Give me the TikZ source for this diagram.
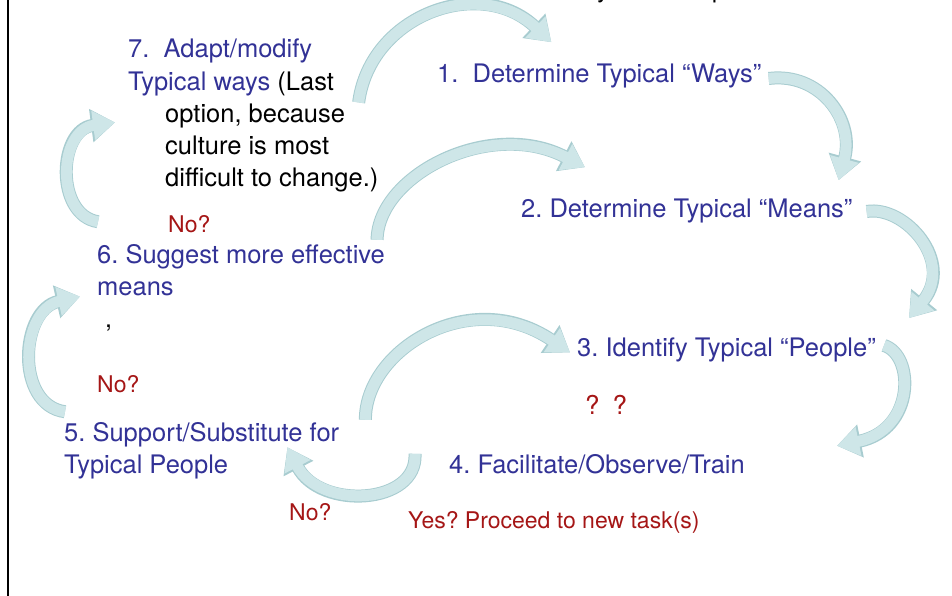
\documentclass[tikz,border=0pt]{standalone}
\usepackage{fontspec}
\setmainfont{TeX Gyre Heros}
\usetikzlibrary{arrows.meta}
\frenchspacing

\definecolor{stepblue}{RGB}{50,50,150}
\definecolor{askred}{RGB}{165,22,22}
\definecolor{cyclefill}{RGB}{206,230,232}
\definecolor{cycleedge}{RGB}{168,204,208}

\begin{document}
\begin{tikzpicture}[x=1pt,y=-1pt,
  stepnode/.style={inner sep=0pt, anchor=base west, text=stepblue, align=left,
    font=\fontsize{25.5}{32}\selectfont},
  asknode/.style={inner sep=0pt, anchor=base west, text=askred,
    font=\fontsize{23}{28}\selectfont},
  cyclearrow/.style={line width=11pt, draw=cyclefill, -{Triangle[length=22pt,width=28pt]},
    preaction={draw=cycleedge, line width=13pt, -{Triangle[length=24pt,width=32pt]}}}]
  \useasboundingbox (0,0) rectangle (952,596);

  % Left edge of the frame
  \draw[line width=2.5pt] (8,0) -- (8,596);

  % Bottom of the heading line, cut off at the top
  \begin{scope}
    \clip (0,0) rectangle (952,596);
    \node[inner sep=0pt, anchor=base west, font=\fontsize{25}{30}\selectfont] (headY) at (597,-2) {y};
    \node[inner sep=0pt, anchor=base west, font=\fontsize{25}{30}\selectfont] (headP) at (712,-2) {p};
  \end{scope}

  % The seven steps (multi-line nodes sit on their last line)
  \node[stepnode] (n1) at (437,83) {1.\ \ Determine Typical “Ways”};
  \node[stepnode] (n2) at (521,217) {2. Determine Typical “Means”};
  \node[stepnode] (n3) at (577,356) {3. Identify Typical “People”};
  \node[stepnode] (n4) at (449,473) {4. Facilitate/Observe/Train};
  \node[stepnode] (n5) at (64,473) {5. Support/Substitute for\\Typical People};
  \node[stepnode] (n6) at (97,295) {6. Suggest more effective\\means};
  \node[stepnode] (n7) at (128,186) {7.\ \ Adapt/modify\\Typical ways \textcolor{black}{(Last}\\
    \hspace*{37pt}\textcolor{black}{option, because}\\
    \hspace*{37pt}\textcolor{black}{culture is most}\\
    \hspace*{37pt}\textcolor{black}{difficult to change.)}};
  \node[inner sep=0pt, anchor=base west, font=\fontsize{25}{30}\selectfont] (tick) at (105,327) {,};

  % Questions in red
  \node[asknode] (no7) at (168,232) {No?};
  \node[asknode] (no6) at (97,392) {No?};
  \node[asknode] (no5) at (289,520) {No?};
  \node[asknode] (yes) at (408,528) {Yes? Proceed to new task(s)};
  \node[asknode, font=\fontsize{26}{30}\selectfont] (unsure) at (585,414) {?\hspace{13pt}?};

  % Curved arrows round the cycle
  \draw[cyclearrow] ([shift={(-20,-13)}]n7.east) .. controls (370,15) and (480,-25) .. ([shift={(-48,-22)}]n1.north);
  \draw[cyclearrow] ([shift={(7,2)}]n1.east) .. controls (820,72) and (855,120) .. ([shift={(-14,-18)}]n2.north east);
  \draw[cyclearrow] ([shift={(-8,-4)}]n6.north east) .. controls (378,175) and (490,118) .. ([shift={(64,-31)}]n2.north west);
  \draw[cyclearrow] ([shift={(14,1)}]n2.east) .. controls (905,205) and (955,262) .. ([shift={(33,-19)}]n3.north east);
  \draw[cyclearrow] ([shift={(26,-2)}]n5.north east) .. controls (365,350) and (470,285) .. ([shift={(-7,3)}]n3.west);
  \draw[cyclearrow] ([shift={(8,-4)}]n3.east) .. controls (915,355) and (915,430) .. ([shift={(92,-8)}]n4.north east);
  \draw[cyclearrow] ([shift={(-34,0)}]n4.north west) .. controls (418,505) and (320,510) .. ([shift={(-52,-3)}]n5.east);
  \draw[cyclearrow] ([shift={(1,-10)}]n5.north west) .. controls (15,405) and (20,310) .. ([shift={(-17,1)}]n6.south west);
  \draw[cyclearrow] ([shift={(1,-22)}]n6.north west) .. controls (55,215) and (58,130) .. ([shift={(-13,7)}]n7.west);
\end{tikzpicture}
\end{document}
